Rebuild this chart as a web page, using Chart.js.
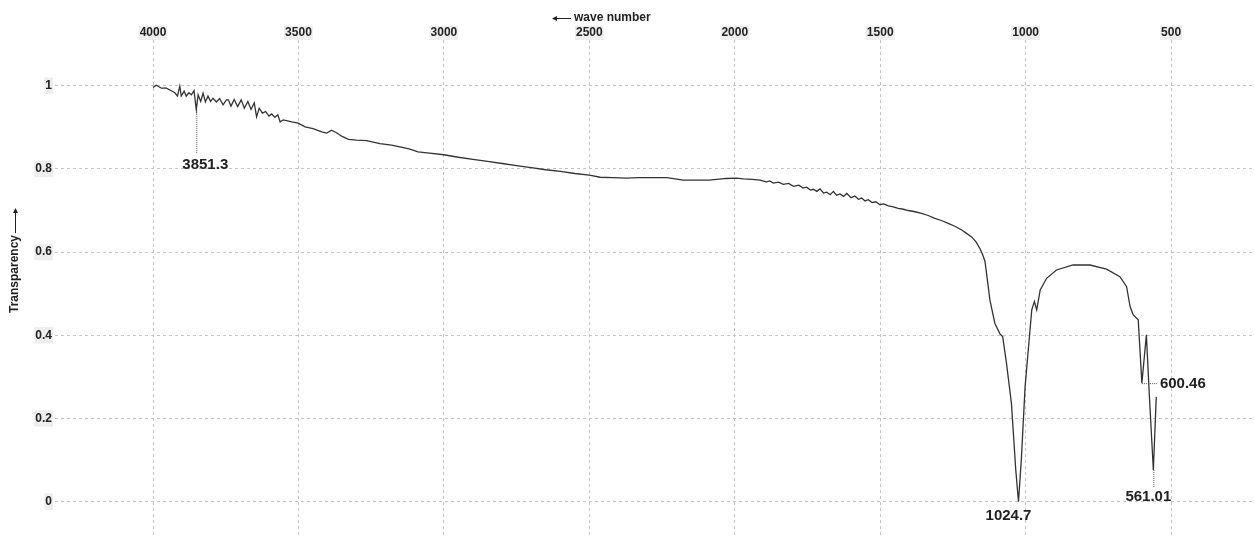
<!DOCTYPE html>
<html>
<head>
<meta charset="utf-8">
<script src="https://cdn.jsdelivr.net/npm/chart.js@4.4.0/dist/chart.umd.min.js"></script>
<style>
html, body { margin: 0; padding: 0; background: #fff; }
#wrap { width: 1254px; height: 538px; }
</style>
</head>
<body>
<div id="wrap"><canvas id="ir_chart"></canvas></div>
<script>
// IR spectrum
const waveNumbers = [
	4000, 3989, 3971, 3954, 3937, 3925, 3916, 3908, 3903, 3893, 3886, 3877, 3868, 3859, 3851.3,
	3845, 3836, 3828, 3820, 3811, 3802, 3794, 3782, 3771, 3759, 3748, 3741, 3732, 3721, 3709,
	3697, 3686, 3674, 3663, 3652, 3644, 3635, 3624, 3613, 3601, 3592, 3581, 3571, 3563, 3552,
	3523, 3501, 3477, 3450, 3420, 3403, 3386, 3369, 3350, 3328, 3300, 3266, 3220, 3180, 3151,
	3120, 3089, 3050, 3000, 2950, 2900, 2850, 2800, 2750, 2700, 2650, 2600, 2550, 2500, 2463,
	2420, 2372, 2330, 2280, 2234, 2205, 2177, 2130, 2090, 2062, 2030, 1994, 1970, 1940, 1913,
	1891, 1880, 1867, 1850, 1833, 1815, 1798, 1780, 1765, 1753, 1740, 1730, 1718, 1707, 1695,
	1684, 1672, 1661, 1650, 1638, 1626, 1615, 1600, 1587, 1575, 1564, 1552, 1541, 1528, 1515,
	1501, 1488, 1472, 1455, 1438, 1420, 1404, 1380, 1358, 1335, 1312, 1290, 1266, 1240, 1220,
	1203, 1185, 1170, 1157, 1148, 1140, 1130, 1123, 1106, 1088, 1079, 1066, 1049, 1034, 1024.7,
	1015, 1002, 990, 979, 970, 962, 950, 928, 894, 837, 779, 722, 676, 653, 641,
	630, 613, 600.46, 585, 574, 561.01, 551
];
const transparency = [
	0.996, 1.001, 0.994, 0.994, 0.988, 0.983, 0.975, 0.999, 0.975, 0.987, 0.975, 0.983, 0.978, 0.988, 0.942,
	0.978, 0.962, 0.982, 0.961, 0.975, 0.962, 0.970, 0.961, 0.969, 0.954, 0.966, 0.966, 0.951, 0.967, 0.950,
	0.966, 0.946, 0.962, 0.943, 0.959, 0.925, 0.946, 0.934, 0.938, 0.927, 0.932, 0.924, 0.930, 0.913, 0.918,
	0.913, 0.910, 0.901, 0.897, 0.889, 0.886, 0.893, 0.887, 0.878, 0.871, 0.869, 0.868, 0.861, 0.857, 0.853,
	0.848, 0.841, 0.838, 0.834, 0.828, 0.823, 0.818, 0.813, 0.808, 0.803, 0.798, 0.794, 0.789, 0.785, 0.780,
	0.779, 0.778, 0.779, 0.779, 0.779, 0.776, 0.773, 0.773, 0.773, 0.775, 0.777, 0.778, 0.776, 0.775, 0.773,
	0.769, 0.771, 0.766, 0.768, 0.763, 0.765, 0.758, 0.761, 0.754, 0.756, 0.749, 0.751, 0.746, 0.752, 0.742,
	0.744, 0.738, 0.746, 0.737, 0.740, 0.734, 0.741, 0.731, 0.735, 0.727, 0.730, 0.723, 0.726, 0.719, 0.721,
	0.714, 0.716, 0.711, 0.709, 0.705, 0.703, 0.700, 0.697, 0.693, 0.688, 0.681, 0.676, 0.669, 0.661, 0.653,
	0.645, 0.636, 0.624, 0.608, 0.594, 0.578, 0.525, 0.485, 0.429, 0.403, 0.397, 0.333, 0.237, 0.076, 0.000,
	0.100, 0.276, 0.373, 0.461, 0.481, 0.461, 0.509, 0.537, 0.557, 0.569, 0.569, 0.559, 0.541, 0.517, 0.469,
	0.449, 0.437, 0.285, 0.401, 0.245, 0.076, 0.252
];
const xTicks = [4000, 3500, 3000, 2500, 2000, 1500, 1000, 500];
const yTicks = [0, 0.2, 0.4, 0.6, 0.8, 1];
const peakWaves = [3851.3, 1024.7, 600.46, 561.01];
const peakLabels = ['3851.3', '1024.7', '600.46', '561.01'];

// how each peak label sits next to its point
const peakStyle = [
	{ lead: 'down', len: 43, dx: 9, dy: 55 },
	{ lead: 'none', len: 0, dx: -10, dy: 14 },
	{ lead: 'right', len: 16, dx: 0, dy: 1 },
	{ lead: 'down', len: 17, dx: -5, dy: 27 }
];

const textFont = 'bold 12px "Liberation Sans", Arial, sans-serif';

const peakPlugin = {
	id: 'peaks',
	afterDatasetsDraw(chart) {
		const ctx = chart.ctx;
		const xs = chart.scales.x, ys = chart.scales.y;
		ctx.save();
		ctx.font = 'bold 15px "Liberation Sans", Arial, sans-serif';
		ctx.fillStyle = '#222';
		ctx.strokeStyle = '#555';
		ctx.lineWidth = 1;
		peakWaves.forEach(function(w, i) {
			const idx = waveNumbers.indexOf(w);
			const px = xs.getPixelForValue(w);
			const py = ys.getPixelForValue(transparency[idx]);
			const st = peakStyle[i];
			ctx.setLineDash([1, 1]);
			ctx.beginPath();
			if (st.lead === 'down') {
				ctx.moveTo(px + 0.5, py);
				ctx.lineTo(px + 0.5, py + st.len);
			} else if (st.lead === 'right') {
				ctx.moveTo(px, py + 0.5);
				ctx.lineTo(px + st.len, py + 0.5);
			}
			ctx.stroke();
			ctx.setLineDash([]);
			ctx.textBaseline = 'middle';
			if (st.lead === 'right') {
				ctx.textAlign = 'left';
				ctx.fillText(peakLabels[i], px + st.len + 2, py + st.dy);
			} else {
				ctx.textAlign = 'center';
				ctx.fillText(peakLabels[i], px + st.dx, py + st.dy);
			}
		});
		ctx.restore();
	},
	afterDraw(chart) {
		// axis titles with their arrows
		const ctx = chart.ctx;
		ctx.save();
		ctx.font = textFont;
		ctx.fillStyle = '#222';
		ctx.strokeStyle = '#222';
		ctx.lineWidth = 1;
		ctx.textBaseline = 'middle';
		ctx.textAlign = 'left';
		ctx.fillText('wave number', 574, 18);
		ctx.beginPath();
		ctx.moveTo(555, 18.5); ctx.lineTo(571, 18.5);
		ctx.stroke();
		ctx.beginPath();
		ctx.moveTo(552, 18.5); ctx.lineTo(557, 16); ctx.lineTo(557, 21); ctx.closePath();
		ctx.fill();

		ctx.translate(15, 274);
		ctx.rotate(-Math.PI / 2);
		ctx.textAlign = 'center';
		ctx.fillText('Transparency', 0, 0);
		ctx.beginPath();
		ctx.moveTo(41, 0.5); ctx.lineTo(63, 0.5);
		ctx.stroke();
		ctx.beginPath();
		ctx.moveTo(66, 0.5); ctx.lineTo(61, -2); ctx.lineTo(61, 3); ctx.closePath();
		ctx.fill();
		ctx.restore();
	}
};

const points = waveNumbers.map(function(w, i) { return { x: w, y: transparency[i] }; });

const tickFont = { family: '"Liberation Sans", Arial, sans-serif', size: 12, weight: 'bold' };

const config = {
	type: 'scatter',
	data: {
		datasets: [{
			label: 'spectrum',
			data: points,
			showLine: true,
			borderColor: '#333',
			borderWidth: 1.3,
			pointRadius: 0,
			tension: 0
		}]
	},
	options: {
		responsive: true,
		maintainAspectRatio: false,
		animation: false,
		layout: { padding: 0 },
		plugins: {
			legend: { display: false },
			tooltip: { enabled: false }
		},
		scales: {
			x: {
				type: 'linear',
				position: 'top',
				reverse: true,
				min: 215,
				max: 4337,
				afterBuildTicks: function(s) { s.ticks = xTicks.map(function(v) { return { value: v }; }); },
				afterFit: function(s) { s.height = 40; s.paddingLeft = 0; s.paddingRight = 0; },
				grid: { color: '#c4c4c4', drawTicks: false },
				border: { display: false, dash: [3, 3] },
				ticks: {
					font: tickFont,
					color: '#222',
					padding: 0,
					maxRotation: 0,
					autoSkip: false,
					showLabelBackdrop: true,
					backdropColor: '#eeeeee',
					backdropPadding: { x: 1, y: 0 },
					callback: function(value) { return String(value); }
				}
			},
			y: {
				type: 'linear',
				min: -0.0873,
				max: 1.1099,
				afterBuildTicks: function(s) { s.ticks = yTicks.map(function(v) { return { value: v }; }); },
				afterFit: function(s) { s.width = 55; s.paddingTop = 0; s.paddingBottom = 0; },
				grid: { color: '#c4c4c4', drawTicks: false },
				border: { display: false, dash: [3, 3] },
				ticks: {
					font: tickFont,
					color: '#222',
					padding: 3,
					showLabelBackdrop: true,
					backdropColor: '#eeeeee',
					backdropPadding: { x: 1, y: 1 },
					callback: function(value) { return String(Math.round(value * 10) / 10); }
				}
			}
		}
	},
	plugins: [peakPlugin]
};

var cv = document.getElementById('ir_chart');
var chart = new Chart(cv.getContext('2d'), config);
</script>
</body>
</html>
